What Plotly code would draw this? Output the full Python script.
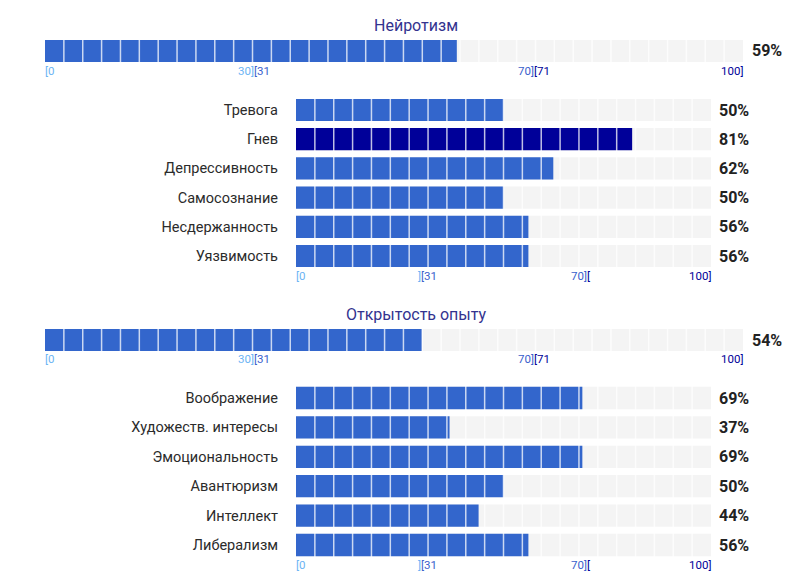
import plotly.graph_objects as go

# ---- data ----
title_1 = "Нейротизм"
total_1 = 59
facets_1 = ["Тревога", "Гнев", "Депрессивность", "Самосознание", "Несдержанность", "Уязвимость"]
values_1 = [50, 81, 62, 50, 56, 56]

title_2 = "Открытость опыту"
total_2 = 54
facets_2 = ["Воображение", "Художеств. интересы", "Эмоциональность", "Авантюризм", "Интеллект", "Либерализм"]
values_2 = [69, 37, 69, 50, 44, 56]

# range labels under the bars: (text, x position, anchor, band)
top_ticks = [("[0", 0, "left", 0), ("30]", 30, "right", 0), ("[31", 30, "left", 1),
             ("70]", 70, "right", 1), ("[71", 70, "left", 2), ("100]", 100, "right", 2)]
facet_ticks = [("[0", 0, "left", 0), ("]", 30, "right", 0), ("[31", 30, "left", 1),
               ("70]", 70, "right", 1), ("[", 70, "left", 2), ("100]", 100, "right", 2)]

band_tick_colors = ["#6cb4f4", "#3a5fcc", "#000099"]
band_bar_colors = ["#6cb4f4", "#3366cc", "#000099"]
track_color = "#f4f4f4"
W, H = 806, 576
FONT = "Roboto"


def band(v):
    return 0 if v <= 30 else (1 if v <= 70 else 2)


def py(px):
    # pixel from top -> paper y
    return 1 - px / H


fig = go.Figure()

# layout of the four panels (pixels)
panels = [
    # axis suffix, x0, x1, y top, y bottom, cells, labels, values, tick row y
    ("", 45, 743, 40, 62, 37, [title_1], [total_1], 71, top_ticks),
    ("2", 296, 711, 95.4, 270.6, 22, facets_1, values_1, 276, facet_ticks),
    ("3", 45, 743, 329, 351, 37, [title_2], [total_2], 359, top_ticks),
    ("4", 296, 711, 383.3, 559.7, 22, facets_2, values_2, 565, facet_ticks),
]

shapes = []
annotations = []
layout_axes = {}

for suf, x0, x1, yt, yb, cells, labels, vals, tick_y, ticks in panels:
    xa, ya = "x" + suf, "y" + suf
    single = len(labels) == 1
    cats = list(range(len(labels)))
    w = 1.0 if single else 0.76

    fig.add_trace(go.Bar(x=[100] * len(vals), y=cats, orientation="h", width=w,
                         marker=dict(color=track_color, line_width=0),
                         xaxis=xa, yaxis=ya, hoverinfo="skip", showlegend=False))
    fig.add_trace(go.Bar(x=vals, y=cats, orientation="h", width=w,
                         marker=dict(color=[band_bar_colors[band(v)] for v in vals], line_width=0),
                         xaxis=xa, yaxis=ya, hoverinfo="skip", showlegend=False))

    layout_axes["xaxis" + suf] = dict(domain=[x0 / W, x1 / W], range=[0, 100], visible=False,
                                      anchor=ya, fixedrange=True)
    yax = dict(domain=[py(yb), py(yt)], range=[len(labels) - 0.5, -0.5], anchor=xa,
               showgrid=False, zeroline=False, showline=False, ticks="", fixedrange=True)
    if single:
        yax["showticklabels"] = False
    else:
        yax.update(tickmode="array", tickvals=cats, ticktext=labels, ticklabelstandoff=17,
                   tickfont=dict(family=FONT, size=14.5, color="#2b2b2b"))
    layout_axes["yaxis" + suf] = yax

    # cell dividers
    for k in range(1, cells):
        xv = k * 100 / cells
        shapes.append(dict(type="line", xref=xa, yref=ya + " domain", x0=xv, x1=xv, y0=0, y1=1,
                           line=dict(color="rgba(255,255,255,0.75)", width=1.5), layer="above"))

    # percentages
    for c, v in zip(cats, vals):
        annotations.append(dict(xref=xa, yref=ya, x=100, y=c, text="<b>%d%%</b>" % v,
                                xanchor="left", yanchor="middle", showarrow=False,
                                xshift=7 if not single else 8, borderpad=0,
                                font=dict(family=FONT, size=16, color="#222222")))

    # section title
    if single:
        annotations.append(dict(xref="paper", yref="paper", x=416 / W, y=py(yt - 15),
                                text=labels[0], showarrow=False, xanchor="center", yanchor="middle",
                                font=dict(family=FONT, size=16, color="#33338f")))

    # range labels
    for txt, xv, anc, b in ticks:
        annotations.append(dict(xref=xa, yref="paper", x=xv, y=py(tick_y), text=txt,
                                xanchor=anc, yanchor="middle", showarrow=False, borderpad=0,
                                xshift=1 if anc == "right" else -1,
                                font=dict(family=FONT, size=11.5, color=band_tick_colors[b])))

fig.update_layout(
    width=W, height=H,
    margin=dict(l=0, r=0, t=0, b=0),
    paper_bgcolor="white", plot_bgcolor="white",
    barmode="overlay",
    shapes=shapes, annotations=annotations,
    font=dict(family=FONT),
    **layout_axes,
)

fig.write_html("out.html", config={"displayModeBar": False},
               post_script="document.body.style.margin='0';")
